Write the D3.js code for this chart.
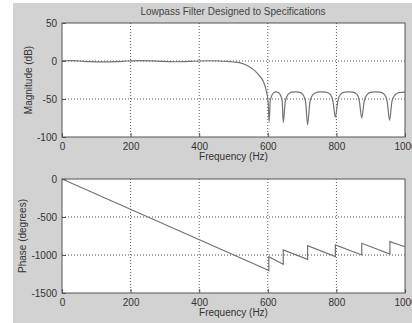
<!DOCTYPE html>
<html>
<head>
<meta charset="utf-8">
<script src="https://cdn.jsdelivr.net/npm/d3@7"></script>
<style>
  body { margin: 0; background: #fff; }
  svg { display: block; font-family: "Liberation Sans", Arial, sans-serif; }
</style>
</head>
<body>
<div id="chart"></div>
<script>
const WIDTH = 412;
const HEIGHT = 323;

// frequency ticks shared by both panels
const freqTicks = [0, 200, 400, 600, 800, 1000];
const magTicks = [50, 0, -50, -100];
const phaseTicks = [0, -500, -1000, -1500];

// magnitude response (Hz, dB)
const magFreq = [0, 25, 50, 80, 120, 160, 190, 225, 260, 290, 330, 370, 400, 430, 460, 480, 500, 520, 540, 560, 575, 588, 596, 601, 604,
  607, 612, 618, 624, 631, 637, 642, 645,
  651, 659, 670, 680, 691, 702, 710, 716,
  723, 732, 745, 757, 769, 782, 790, 797,
  804, 812, 824, 836, 848, 860, 867, 874,
  881, 890, 902, 915, 928, 940, 948, 955,
  962, 970, 982, 1000];
const magDb = [0.3, 0.4, 0, -0.8, -1.1, -0.8, 0, 0.5, 0.2, -0.6, -1.0, -0.6, 0, 0.3, 0, -0.5, -1.3, -2.5, -6, -12, -19, -28, -40, -55, -80,
  -53, -45, -41.5, -40.5, -41.5, -45, -53, -81,
  -53, -44, -41, -40.5, -41, -44, -53, -84,
  -53, -44, -41, -40.5, -41, -44, -53, -74,
  -53, -44, -41, -40.5, -41, -44, -53, -75,
  -53, -44, -41, -40.5, -41, -44, -53, -78,
  -53, -45, -41.5, -41];

// phase response (Hz, degrees); repeated frequencies are the jumps
const phaseFreq = [0, 600, 603, 603, 645, 645, 716, 716, 797, 797, 874, 874, 956, 956, 1000];
const phaseDeg = [0, -1197, -1205, -1022, -1122, -934, -1057, -878, -1022, -868, -1000, -846, -987, -825, -891];

const svg = d3.select('#chart').append('svg')
  .attr('width', WIDTH)
  .attr('height', HEIGHT);

// grey figure background
svg.append('rect')
  .attr('x', 13).attr('y', 3)
  .attr('width', WIDTH - 13).attr('height', HEIGHT - 3)
  .attr('fill', '#d2d2d2');

svg.append('text')
  .attr('x', 233).attr('y', 14.5)
  .attr('text-anchor', 'middle')
  .attr('font-size', 10)
  .attr('fill', '#444')
  .text('Lowpass Filter Designed to Specifications');

function panel(top, bottom, yDomain, yTicks, xs, ys, yLabel, labelX, curve) {
  const x = d3.scaleLinear().domain([0, 1000]).range([62, 405]);
  const y = d3.scaleLinear().domain(yDomain).range([bottom, top]);
  const g = svg.append('g');

  g.append('rect')
    .attr('x', 62).attr('y', top)
    .attr('width', 343).attr('height', bottom - top)
    .attr('fill', '#fff');

  // dotted grid
  g.selectAll('.gx').data(freqTicks.slice(1, -1)).enter().append('line')
    .attr('x1', d => x(d)).attr('x2', d => x(d))
    .attr('y1', top).attr('y2', bottom)
    .attr('stroke', '#555').attr('stroke-dasharray', '1,2');
  g.selectAll('.gy').data(yTicks.slice(1, -1)).enter().append('line')
    .attr('x1', 62).attr('x2', 405)
    .attr('y1', d => y(d)).attr('y2', d => y(d))
    .attr('stroke', '#555').attr('stroke-dasharray', '1,2');

  const line = d3.line()
    .x(i => x(xs[i]))
    .y(i => y(ys[i]))
    .curve(curve);
  g.append('path')
    .attr('d', line(d3.range(xs.length)))
    .attr('fill', 'none')
    .attr('stroke', '#737373')
    .attr('stroke-width', 1.2);

  const fmt = d => String(d);
  const xAxis = g.append('g')
    .attr('transform', `translate(0,${bottom})`)
    .call(d3.axisBottom(x).tickValues(freqTicks).tickFormat(fmt).tickSize(-4).tickPadding(6));
  const yAxis = g.append('g')
    .attr('transform', 'translate(62,0)')
    .call(d3.axisLeft(y).tickValues(yTicks).tickFormat(fmt).tickSize(-4).tickPadding(5));
  [xAxis, yAxis].forEach(a => {
    a.select('.domain').remove();
    a.selectAll('line').attr('stroke', '#555');
    a.selectAll('text').attr('fill', '#333').attr('font-size', 10)
      .attr('font-family', '"Liberation Sans", Arial, sans-serif');
  });

  g.append('rect')
    .attr('x', 62).attr('y', top)
    .attr('width', 343).attr('height', bottom - top)
    .attr('fill', 'none')
    .attr('stroke', '#555');

  g.append('text')
    .attr('x', 233.5).attr('y', bottom + 23)
    .attr('text-anchor', 'middle')
    .attr('font-size', 10).attr('fill', '#333')
    .text('Frequency (Hz)');

  g.append('text')
    .attr('transform', `translate(${labelX},${(top + bottom) / 2}) rotate(-90)`)
    .attr('text-anchor', 'middle')
    .attr('font-size', 10).attr('fill', '#333')
    .text(yLabel);
}

panel(23, 137, [-100, 50], magTicks, magFreq, magDb, 'Magnitude (dB)', 31.5, d3.curveMonotoneX);
panel(179, 293, [-1500, 0], phaseTicks, phaseFreq, phaseDeg, 'Phase (degrees)', 26, d3.curveLinear);
</script>
</body>
</html>
